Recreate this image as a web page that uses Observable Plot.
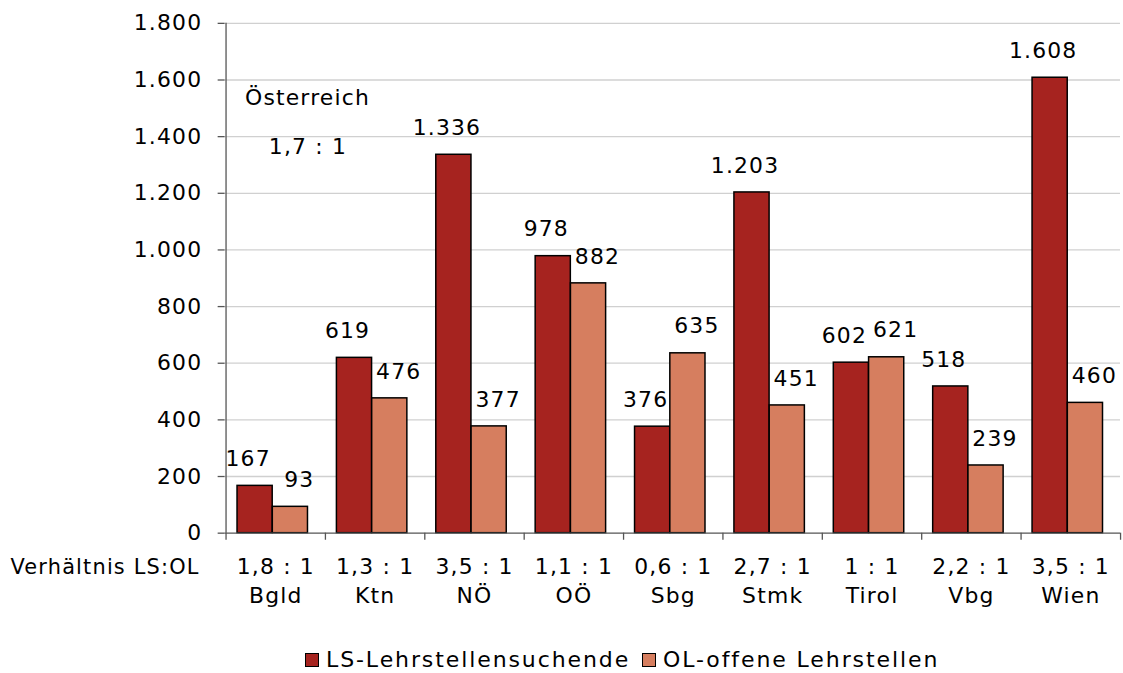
<!DOCTYPE html>
<html><head><meta charset="utf-8">
<script src="https://cdn.jsdelivr.net/npm/d3@7"></script>
<script src="https://cdn.jsdelivr.net/npm/@observablehq/plot@0.6"></script>
<style>
html,body{margin:0;padding:0;background:#fff;overflow:hidden;font-family:"DejaVu Sans",sans-serif;}
#chart{position:absolute;left:0;top:0;}
#legend{position:absolute;left:305px;top:649px;height:22px;line-height:22px;font-size:22px;letter-spacing:1.9px;display:flex;align-items:center;white-space:nowrap;color:#000;}
.sw{display:inline-block;width:12px;height:12px;border:1.5px solid #000;margin-right:7px;}
.item{display:flex;align-items:center;margin-right:12px;}
</style></head><body>
<div id="chart"></div>
<div id="legend"></div>
<script>
const regions = ["Bgld","Ktn","NÖ","OÖ","Sbg","Stmk","Tirol","Vbg","Wien"];
const ratios = ["1,8 : 1","1,3 : 1","3,5 : 1","1,1 : 1","0,6 : 1","2,7 : 1","1 : 1","2,2 : 1","3,5 : 1"];
const lsValues = [167,619,1336,978,376,1203,602,518,1608];
const olValues = [93,476,377,882,635,451,621,239,460];
const yTicks = [0,200,400,600,800,1000,1200,1400,1600,1800];
const seriesNames = ["LS-Lehrstellensuchende","OL-offene Lehrstellen"];
const seriesColors = ["#a6231f","#d67e5f"];
const ratioHeader = "Verhältnis LS:OL";
const totalLabel = "Österreich";
const totalRatio = "1,7 : 1";

const de = d3.formatLocale({decimal: ",", thousands: ".", grouping: [3], currency: ["", " €"]});
const fmt = de.format(",d");

const ls = regions.map((r, i) => ({region: r, value: lsValues[i]}));
const ol = regions.map((r, i) => ({region: r, value: olValues[i]}));
const cats = regions.map((r, i) => ({region: r, ratio: ratios[i]}));

const step = (1127 - 226) / regions.length;
const axisColor = "#555";

const chart = Plot.plot({
  width: 1130,
  height: 636,
  marginLeft: 226,
  marginRight: 3,
  marginTop: 23,
  marginBottom: 100,
  style: {fontFamily: "DejaVu Sans", fontSize: "22px", letterSpacing: "1.2px", color: "#000", background: "#fff"},
  x: {domain: regions, padding: 0, axis: null},
  y: {domain: [0, 1800], axis: null},
  marks: [
    Plot.ruleY(yTicks.filter(d => d > 0), {stroke: "#d0d0d0", strokeWidth: 1.3}),
    Plot.axisY({ticks: yTicks, tickSize: 7, tickPadding: 16, tickFormat: fmt, fontSize: 22, stroke: axisColor, strokeWidth: 1.3, label: null}),
    Plot.barY(ls, {x: "region", y: "value", fill: seriesColors[0], stroke: "#000", strokeWidth: 1.5, insetLeft: 11.5, insetRight: step - 47}),
    Plot.barY(ol, {x: "region", y: "value", fill: seriesColors[1], stroke: "#000", strokeWidth: 1.5, insetLeft: 47, insetRight: step - 82.5}),
    Plot.ruleX([regions[0]], {x: d => d, dx: -step / 2, y1: 0, y2: 1800, stroke: axisColor, strokeWidth: 1.3}),
    Plot.ruleY([0], {stroke: axisColor, strokeWidth: 1.3}),
    Plot.ruleX(regions, {x: d => d, dx: -step / 2, y1: 0, y2: -25, stroke: axisColor, strokeWidth: 1.3}),
    Plot.ruleX([regions[regions.length - 1]], {x: d => d, dx: step / 2, y1: 0, y2: -25, stroke: axisColor, strokeWidth: 1.3}),
    Plot.text(ls, {x: "region", y: "value", text: d => fmt(d.value), dx: 29.25 - step / 2 - 7, dy: -27, fontSize: 22, fill: "#000"}),
    Plot.text(ol, {x: "region", y: "value", text: d => fmt(d.value), dx: 64.75 - step / 2 + 9, dy: -27, fontSize: 22, fill: "#000"}),
    Plot.text(cats, {x: "region", text: "ratio", frameAnchor: "bottom", lineAnchor: "middle", dy: 34, fontSize: 22, letterSpacing: "0.8px", fill: "#000"}),
    Plot.text(cats, {x: "region", text: "region", frameAnchor: "bottom", lineAnchor: "middle", dy: 63, fontSize: 22, letterSpacing: "0.8px", fill: "#000"}),
    Plot.text([ratioHeader], {text: d => d, frameAnchor: "bottom-left", lineAnchor: "middle", dx: -216, dy: 34, textAnchor: "start", fontSize: 21, letterSpacing: "0.6px", fill: "#000"}),
    Plot.text([totalLabel], {text: d => d, frameAnchor: "top-left", lineAnchor: "middle", dx: 20, dy: 75, textAnchor: "start", fontSize: 22, letterSpacing: "1.7px", fill: "#000"}),
    Plot.text([totalRatio], {text: d => d, frameAnchor: "top-left", lineAnchor: "middle", dx: 44, dy: 124, textAnchor: "start", fontSize: 22, letterSpacing: "0.6px", fill: "#000"})
  ]
});
document.getElementById("chart").appendChild(chart);

const legend = document.getElementById("legend");
seriesNames.forEach((name, i) => {
  const item = document.createElement("span");
  item.className = "item";
  const sw = document.createElement("span");
  sw.className = "sw";
  sw.style.background = seriesColors[i];
  item.appendChild(sw);
  item.appendChild(document.createTextNode(name));
  legend.appendChild(item);
});
</script>
</body></html>
